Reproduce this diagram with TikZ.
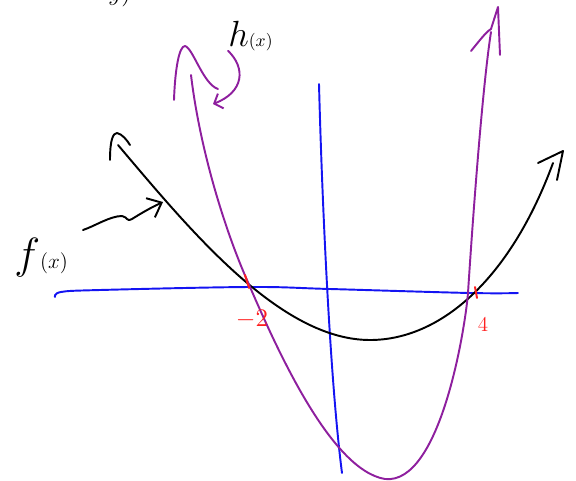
\documentclass[tikz,border=0pt]{standalone}
\usepackage{amsmath}
\usepackage{xcolor}
\usepackage{tikz}
\usetikzlibrary{arrows.meta, positioning}
\definecolor{axisblue}{HTML}{1414F2}
\definecolor{hpurple}{HTML}{8E1F9E}
\definecolor{markred}{HTML}{FF1F1F}

\begin{document}
\begin{tikzpicture}[
        x=0.02cm, y=-0.02cm,
        axis/.style = {draw=axisblue, line width=1.1pt, line cap=round, line join=round},
        fcurve/.style = {draw=black, line width=1.1pt, line cap=round, line join=round},
        hcurve/.style = {draw=hpurple, line width=1.1pt, line cap=round, line join=round},
        tickmark/.style = {draw=markred, line width=1.1pt, line cap=round},
        numlabel/.style = {text=markred, inner sep=0pt},
        fnlabel/.style = {inner sep=0pt, anchor=base west},
        pointer/.style = {line width=1.1pt, line cap=round, line join=round}
    ]
        \useasboundingbox (0,0) rectangle (576,481);

        % axes
        \draw [axis] plot[smooth, tension=0.6] coordinates {(55,297) (61,292) (100,290) (250,287) (330,289) (470,293) (518,293)};
        \draw [axis] (319,84) .. controls (322,200) and (330,380) .. (342,473);

        % f(x)
        \draw [fcurve] (118,145) .. controls (190,230) and (280,340) .. (370,340) .. controls (440,340) and (510,280) .. (553,163);
        \draw [fcurve] (110,160) .. controls (110,140) and (113,133) .. (117,133) .. controls (122,134) and (127,140) .. (130,145);
        \draw [fcurve] (538,163) -- (563,151) -- (557,180);

        % h(x)
        \draw [hcurve] (191,75) .. controls (200,150) and (225,230) .. (247,280) .. controls (275,345) and (330,470) .. (385,479) .. controls (440,485) and (465,330) .. (468,293) .. controls (472,230) and (482,90) .. (491,32);
        \draw [hcurve] (174,100) .. controls (175,70) and (179,46) .. (185,46) .. controls (193,48) and (203,84) .. (218,89);
        \draw [hcurve] (471,51) .. controls (480,40) and (486,32) .. (491,29) -- (498,7) -- (500,55);

        % roots
        \draw [tickmark] (245,275) -- (249,288);
        \draw [tickmark] (475,287) -- (477,298);
        \node (rootA) [numlabel, font=\fontsize{15}{17}\selectfont] at (252,319) {$-2$};
        \node (rootB) [numlabel, font=\fontsize{12}{14}\selectfont] at (483,325) {$4$};

        % labels
        \node (flabel) [fnlabel, font=\fontsize{26}{28}\selectfont] at (14,268) {$f${\fontsize{12}{13}\selectfont$(x)$}};
        \node (hlabel) [fnlabel, font=\fontsize{20}{22}\selectfont] at (228,46) {$h${\fontsize{10}{11}\selectfont$(x)$}};
        \node (cutText) [fnlabel, font=\fontsize{14}{16}\selectfont] at (108,0) {$y)$};
        \coordinate (fTarget) at (163,202);
        \coordinate (hTarget) at (213,104);

        \draw [pointer, -{Straight Barb[length=7pt, width=12pt]}] (83,230) .. controls (95,226) and (110,216) .. (122,216) .. controls (128,217) and (126,222) .. (132,219) .. controls (140,214) and (150,208) .. (fTarget);
        \draw [pointer, hpurple, -{Straight Barb[length=4pt, width=9pt]}] (hlabel.south west) .. controls (246,68) and (244,92) .. (hTarget);

    \end{tikzpicture}
\end{document}
